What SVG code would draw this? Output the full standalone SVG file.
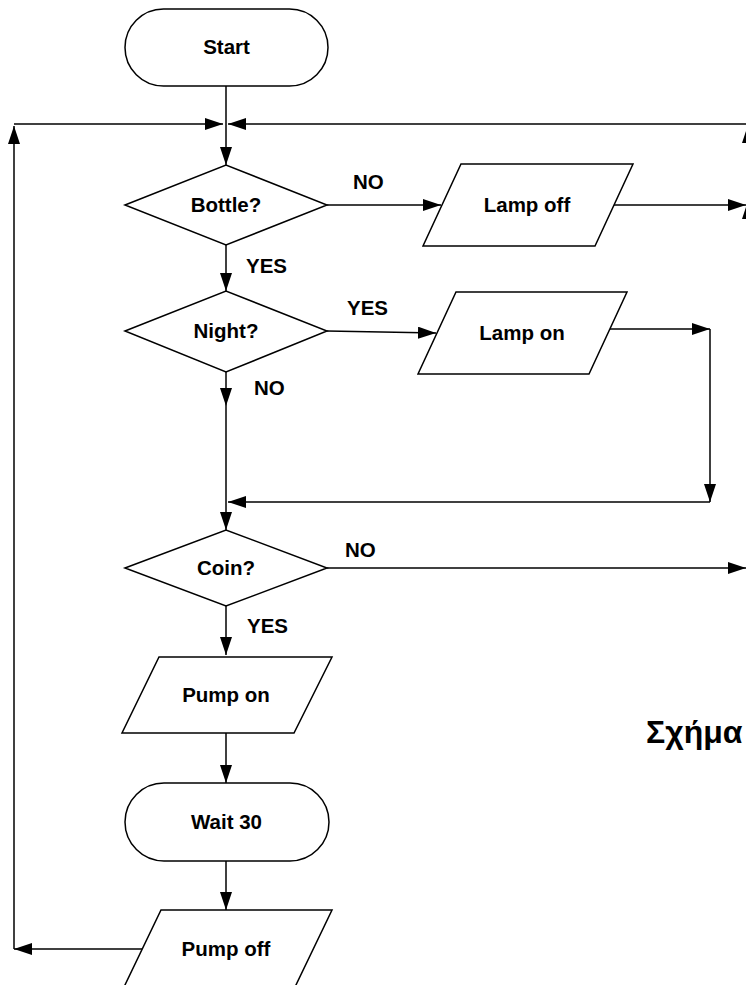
<svg xmlns="http://www.w3.org/2000/svg" width="746" height="985" viewBox="0 0 746 985">
<style>
.shape{fill:#fff;stroke:#000;stroke-width:1.5}
.line{fill:none;stroke:#000;stroke-width:1.5}
.lbl{font-family:"Liberation Sans",Arial,sans-serif;font-weight:bold;font-size:20.5px;fill:#000}
.mid{text-anchor:middle}
.head{fill:#000}
</style>
<defs>
<marker id="arr" markerUnits="userSpaceOnUse" markerWidth="18" markerHeight="12" refX="18" refY="6" orient="auto">
<path d="M0,0 L18,6 L0,12 z" fill="#000"/>
</marker>
</defs>
<rect width="746" height="985" fill="#fff"/>
<g id="connectors">
<path class="line" d="M226,86 V165" marker-end="url(#arr)"/>
<path class="line" d="M14,124 H223" marker-end="url(#arr)"/>
<path class="line" d="M746,124 H228" marker-end="url(#arr)"/>
<path class="line" d="M14,949 V126" marker-end="url(#arr)"/>
<path class="line" d="M142,949 H14" marker-end="url(#arr)"/>
<path class="line" d="M327,205 H441" marker-end="url(#arr)"/>
<path class="line" d="M614,205 H746" marker-end="url(#arr)"/>
<path class="line" d="M226,245 V291" marker-end="url(#arr)"/>
<path class="line" d="M327,331 L436,333" marker-end="url(#arr)"/>
<path class="line" d="M610,329 H710" marker-end="url(#arr)"/>
<path class="line" d="M710,329 V502" marker-end="url(#arr)"/>
<path class="line" d="M710,502 H228" marker-end="url(#arr)"/>
<path class="line" d="M226,372 V406" marker-end="url(#arr)"/>
<path class="line" d="M226,406 V530" marker-end="url(#arr)"/>
<path class="line" d="M327,568 H746" marker-end="url(#arr)"/>
<path class="line" d="M226,606 V655" marker-end="url(#arr)"/>
<path class="line" d="M226,733 V783" marker-end="url(#arr)"/>
<path class="line" d="M226,861 V910" marker-end="url(#arr)"/>
<polygon class="head" points="748,125 754,143 742,143"/>
<polygon class="head" points="748,201 754,219 742,219"/>
</g>
<g id="start">
<rect class="shape" x="125" y="9" width="203" height="77" rx="38.5"/>
<text class="lbl mid" x="226.5" y="54">Start</text>
</g>
<g id="bottle">
<polygon class="shape" points="125,205 226,165 327,205 226,245"/>
<text class="lbl mid" x="226" y="211.5">Bottle?</text>
</g>
<g id="lamp-off">
<polygon class="shape" points="461,164 633,164 595,246 423,246"/>
<text class="lbl mid" x="527" y="211.5">Lamp off</text>
</g>
<g id="night">
<polygon class="shape" points="125,331 226,291 327,331 226,372"/>
<text class="lbl mid" x="226" y="338">Night?</text>
</g>
<g id="lamp-on">
<polygon class="shape" points="456,292 627,292 589,374 418,374"/>
<text class="lbl mid" x="522" y="339.5">Lamp on</text>
</g>
<g id="coin">
<polygon class="shape" points="125,568 226,530 327,568 226,606"/>
<text class="lbl mid" x="226" y="574.5">Coin?</text>
</g>
<g id="pump-on">
<polygon class="shape" points="159,657 332,657 294,733 122,733"/>
<text class="lbl mid" x="226" y="702">Pump on</text>
</g>
<g id="wait">
<rect class="shape" x="125" y="783" width="204" height="78" rx="39"/>
<text class="lbl mid" x="226.5" y="828.5">Wait 30</text>
</g>
<g id="pump-off">
<polygon class="shape" points="161,910 332,910 295,987 124,987"/>
<text class="lbl mid" x="226" y="955.5">Pump off</text>
</g>
<g id="labels">
<text class="lbl" x="353" y="189">NO</text>
<text class="lbl" x="246" y="273">YES</text>
<text class="lbl" x="347" y="315">YES</text>
<text class="lbl" x="254" y="395">NO</text>
<text class="lbl" x="345" y="557">NO</text>
<text class="lbl" x="247" y="633">YES</text>
<text class="lbl" x="646" y="743" style="font-size:32px">Σχήμα</text>
</g>
</svg>
